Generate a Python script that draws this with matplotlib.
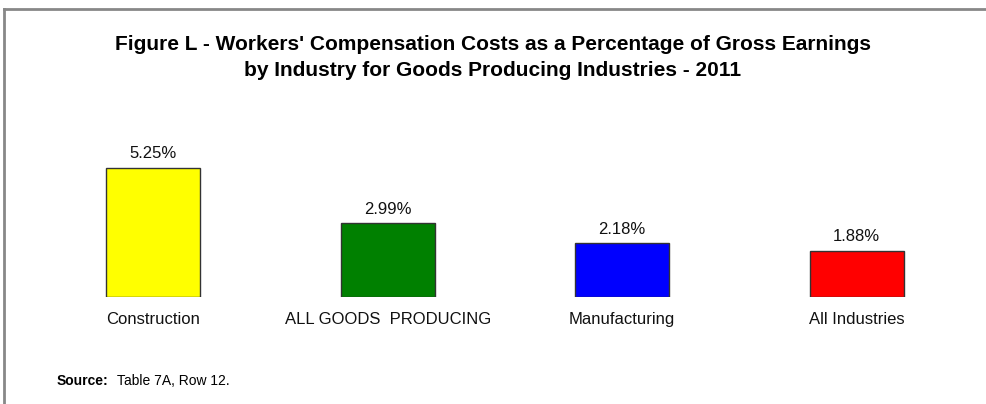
import matplotlib
matplotlib.use("Agg")
import matplotlib.pyplot as plt
from matplotlib.lines import Line2D

categories = ["Construction", "ALL GOODS  PRODUCING", "Manufacturing", "All Industries"]
values = [5.25, 2.99, 2.18, 1.88]
labels = ["5.25%", "2.99%", "2.18%", "1.88%"]
colors = ["#FFFF00", "#008000", "#0000FF", "#FF0000"]

plt.rcParams['font.family'] = ['Liberation Sans', 'DejaVu Sans']

fig = plt.figure(figsize=(9.87, 4.04), dpi=100)
W, H = 987, 404
x0, x1 = 36 / W, 974 / W
y_bot = (H - 297) / H
y_top = (H - (297 - 6 * 24.6)) / H
ax = fig.add_axes([x0, y_bot, x1 - x0, y_top - y_bot])
xs = list(range(len(categories)))
ax.bar(xs, values, width=0.4, color=colors, edgecolor="#333333", linewidth=1)
for x, v, l in zip(xs, values, labels):
    ax.text(x, v + 0.27, l, ha="center", va="bottom", fontsize=12, color="#111111")
ax.set_xlim(-0.5, 3.5)
ax.set_ylim(0, 6)
ax.set_xticks(xs)
ax.set_xticklabels(categories, fontsize=12, color="#111111")
ax.tick_params(axis="x", length=0, pad=11)
ax.set_yticks([])
for s in ax.spines.values():
    s.set_visible(False)

fig.text(493 / W, 1 - 45 / H, "Figure L - Workers' Compensation Costs as a Percentage of Gross Earnings",
         ha="center", va="center", fontsize=15, fontweight="bold")
fig.text(493 / W, 1 - 70 / H, "by Industry for Goods Producing Industries - 2011",
         ha="center", va="center", fontsize=15, fontweight="bold")

t = fig.text(57 / W, 1 - 381 / H, "Source:", ha="left", va="center", fontsize=10, fontweight="bold")
fig.canvas.draw()
bb = t.get_window_extent()
fig.text((bb.x1 + 8) / W, 1 - 381 / H, "Table 7A, Row 12.", ha="left", va="center", fontsize=10)

# border
fig.add_artist(Line2D([4 / W, 1], [1 - 9 / H, 1 - 9 / H], transform=fig.transFigure, color="#888888", lw=2))
fig.add_artist(Line2D([4 / W, 4 / W], [0, 1 - 9 / H], transform=fig.transFigure, color="#888888", lw=2))

fig.savefig("out.png", dpi=100)
